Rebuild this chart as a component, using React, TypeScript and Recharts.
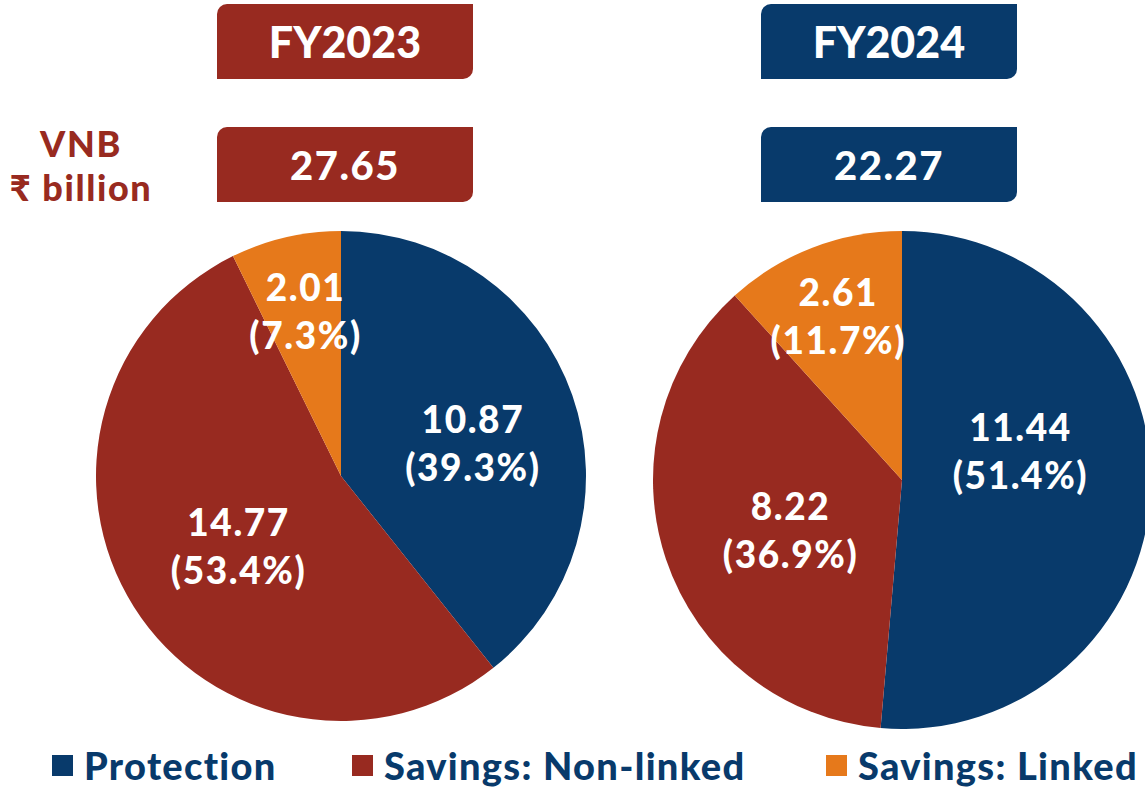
import React from 'react';
import { PieChart, Pie, Cell } from 'recharts';

const SEGMENTS = ['Protection', 'Savings: Non-linked', 'Savings: Linked'];
const YEARS = ['FY2023', 'FY2024'];
const VNB_TOTALS = ['27.65', '22.27'];
const FY2023_VALUES = [10.87, 14.77, 2.01];
const FY2024_VALUES = [11.44, 8.22, 2.61];

const COLORS = ['#083A6B', '#982A20', '#E6791B'];
const YEAR_COLORS = ['#982A20', '#083A6B'];
const FONT = 'Lato, "Open Sans", "DejaVu Sans", sans-serif';

// label placement tweaks (radius ratio, angle shift in deg, clockwise)
const LABEL_R = [
  [0.556, 0.506, 0.69],
  [0.49, 0.49, 0.71],
];
const LABEL_SHIFT = [
  [4.8, -2, 1],
  [-16.3, -5.4, 0],
];

const RAD = Math.PI / 180;

function makeLabel(chartIdx: number, values: number[]) {
  const total = values.reduce((a, b) => a + b, 0);
  return (props: any) => {
    const { cx, cy, midAngle, outerRadius, index, value } = props;
    const r = outerRadius * LABEL_R[chartIdx][index];
    const ang = midAngle - LABEL_SHIFT[chartIdx][index];
    const x = cx + r * Math.cos(-ang * RAD);
    const y = cy + r * Math.sin(-ang * RAD);
    const pct = ((value / total) * 100).toFixed(1);
    const common = {
      fill: '#fff',
      fontFamily: FONT,
      fontWeight: 900,
      fontSize: 37,
      textAnchor: 'middle' as const,
      dominantBaseline: 'central' as const,
      letterSpacing: 1.6,
    };
    return (
      <g key={`lbl-${chartIdx}-${index}`}>
        <text x={x} y={y - 24} {...common}>
          {value.toFixed(2)}
        </text>
        <text x={x} y={y + 24} {...common}>
          {`(${pct}%)`}
        </text>
      </g>
    );
  };
}

const boxStyle = (left: number, top: number, color: string, fontSize: number, ls: number): React.CSSProperties => ({
  position: 'absolute',
  left,
  top,
  width: 256,
  height: 75,
  background: color,
  borderRadius: '10px 0 10px 0',
  color: '#fff',
  fontFamily: FONT,
  fontWeight: 900,
  fontSize,
  letterSpacing: ls,
  display: 'flex',
  alignItems: 'center',
  justifyContent: 'center',
  lineHeight: 1,
});

export default function App() {
  const d23 = SEGMENTS.map((name, i) => ({ name, value: FY2023_VALUES[i] }));
  const d24 = SEGMENTS.map((name, i) => ({ name, value: FY2024_VALUES[i] }));
  return (
    <div style={{ position: 'absolute', left: 0, top: 0, width: 1145, height: 787, overflow: 'hidden', background: '#fff' }}>
      <PieChart width={1145} height={787} margin={{ top: 0, right: 0, bottom: 0, left: 0 }} style={{ position: 'absolute', left: 0, top: 0 }}>
        <Pie
          data={d23}
          dataKey="value"
          cx={341}
          cy={476}
          outerRadius={245}
          startAngle={90}
          endAngle={-270}
          stroke="none"
          isAnimationActive={false}
          labelLine={false}
          label={makeLabel(0, FY2023_VALUES)}
        >
          {d23.map((_, i) => (
            <Cell key={i} fill={COLORS[i]} stroke="none" />
          ))}
        </Pie>
        <Pie
          data={d24}
          dataKey="value"
          cx={902}
          cy={480}
          outerRadius={249}
          startAngle={90}
          endAngle={-270}
          stroke="none"
          isAnimationActive={false}
          labelLine={false}
          label={makeLabel(1, FY2024_VALUES)}
        >
          {d24.map((_, i) => (
            <Cell key={i} fill={COLORS[i]} stroke="none" />
          ))}
        </Pie>
      </PieChart>

      {YEARS.map((y, i) => (
        <div key={y} style={boxStyle(i === 0 ? 217 : 761, 4, YEAR_COLORS[i], 43, 0)}>{y}</div>
      ))}
      {VNB_TOTALS.map((v, i) => (
        <div key={v} style={boxStyle(i === 0 ? 217 : 761, 127, YEAR_COLORS[i], 40, 1.5)}>{v}</div>
      ))}

      <div
        style={{
          position: 'absolute',
          left: 0,
          top: 121,
          width: 162,
          textAlign: 'center',
          color: '#982A20',
          fontFamily: FONT,
          fontWeight: 900,
          fontSize: 36,
          lineHeight: '44px',
          letterSpacing: 1.6,
        }}
      >
        <div>VNB</div>
        <div>₹ billion</div>
      </div>

      {SEGMENTS.map((s, i) => (
        <div
          key={s}
          style={{
            position: 'absolute',
            left: [52, 352, 826][i],
            top: 745,
            height: 40,
            display: 'flex',
            alignItems: 'center',
            fontFamily: FONT,
            fontWeight: 900,
            fontSize: 38,
            color: '#083A6B',
            whiteSpace: 'nowrap',
            letterSpacing: 1.3,
          }}
        >
          <span style={{ display: 'inline-block', width: 21, height: 21, background: COLORS[i], marginRight: 11, flexShrink: 0 }} />
          <span>{s}</span>
        </div>
      ))}
    </div>
  );
}
